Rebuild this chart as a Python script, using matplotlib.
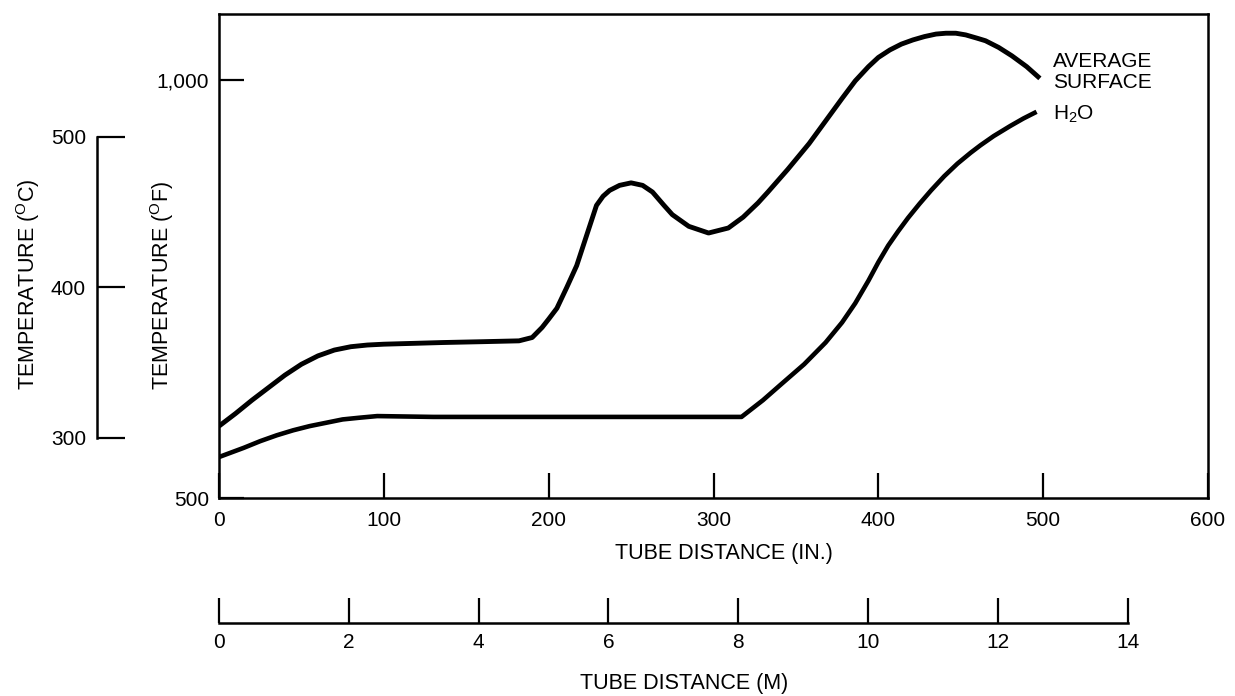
import numpy as np
import matplotlib
matplotlib.use("Agg")
import matplotlib.pyplot as plt

plt.rcParams['font.family'] = ['Liberation Sans', 'DejaVu Sans']
plt.rcParams['mathtext.fontset'] = 'custom'
plt.rcParams['mathtext.rm'] = 'Liberation Sans'
plt.rcParams['mathtext.default'] = 'regular'

# tube distance (in.) and temperature (deg F)
surf_x = [0, 10, 20, 30, 40, 50, 60, 70, 80, 90, 100, 136, 160, 182, 190,
          196, 200, 205, 211, 217, 223, 229, 233, 237, 243, 250, 257, 263,
          270, 275, 285, 297, 309, 318, 327, 333, 345, 358, 368, 378, 386,
          394, 400, 407, 414, 421, 428, 435, 441, 447, 453, 460, 465, 473,
          481, 490, 498]
surf_t = [586, 601, 617, 632, 647, 660, 670, 677, 681, 683, 684, 686, 687,
          688, 692, 704, 714, 727, 752, 778, 814, 850, 861, 868, 874, 877,
          874, 866, 850, 839, 825, 817, 823, 836, 853, 866, 893, 924, 951,
          978, 999, 1016, 1027, 1036, 1043, 1048, 1052, 1055, 1056, 1056,
          1054, 1050, 1047, 1039, 1029, 1016, 1002]

h2o_x = [0, 15, 25, 35, 45, 55, 65, 75, 85, 96, 130, 194, 250, 317, 330,
         341, 355, 368, 378, 386, 394, 400, 406, 412, 418, 425, 432, 440,
         448, 456, 462, 470, 480, 488, 496]
h2o_t = [549, 560, 568, 575, 581, 586, 590, 594, 596, 598, 597, 597, 597,
         597, 617, 636, 660, 686, 710, 733, 760, 782, 802, 819, 835, 852,
         868, 885, 900, 913, 922, 933, 945, 954, 962]

x_ticks = [0, 100, 200, 300, 400, 500, 600]
f_ticks = [500, 1000]
f_labels = ['500', '1,000']
c_ticks = [300, 400, 500]
m_ticks = [0, 2, 4, 6, 8, 10, 12, 14]

W, H = 1235, 696
fs = 15
fig = plt.figure(figsize=(W / 100, H / 100), dpi=100)

L, R, T, B = 219, 1208, 14, 498
pos = [L / W, 1 - B / H, (R - L) / W, (B - T) / H]
ylo, yhi = 500, 1079

ax = fig.add_axes(pos)
ax.plot(surf_x, surf_t, color='black', lw=3.5, solid_capstyle='butt',
        solid_joinstyle='round')
ax.plot(h2o_x, h2o_t, color='black', lw=3.3, solid_capstyle='butt',
        solid_joinstyle='round')
ax.set_xlim(0, 600)
ax.set_ylim(ylo, yhi)
ax.set_xticks(x_ticks)
ax.set_yticks(f_ticks)
ax.set_yticklabels(f_labels)
ax.tick_params(direction='in', length=18, width=1.6, labelsize=fs, color='black')
ax.tick_params(axis='x', pad=9)
ax.tick_params(axis='y', pad=7)
for s in ax.spines.values():
    s.set_linewidth(1.8)

ax.text(506, 1022, 'AVERAGE', fontsize=fs, va='center', ha='left')
ax.text(506, 997, 'SURFACE', fontsize=fs, va='center', ha='left')
ax.text(506, 959, 'H$_2$O', fontsize=fs, va='center', ha='left')

# celsius scale
axc = fig.add_axes([97 / W, pos[1], 0.0005, pos[3]])
axc.set_ylim((ylo - 32) * 5 / 9, (yhi - 32) * 5 / 9)
for k in ['top', 'right', 'bottom']:
    axc.spines[k].set_visible(False)
axc.spines['left'].set_bounds(300, 500)
axc.spines['left'].set_linewidth(1.8)
axc.set_yticks(c_ticks)
axc.set_xticks([])
axc.patch.set_visible(False)
axc.tick_params(axis='y', direction='in', length=20, width=1.6, pad=8, labelsize=fs)

# metre scale
axm = fig.add_axes([pos[0], 1 - 623 / H, pos[2], 0.0005])
axm.set_xlim(0, 600 * 0.0254)
for k in ['top', 'right', 'left']:
    axm.spines[k].set_visible(False)
axm.spines['bottom'].set_bounds(0, 14)
axm.spines['bottom'].set_linewidth(1.8)
axm.set_xticks(m_ticks)
axm.set_yticks([])
axm.patch.set_visible(False)
axm.tick_params(axis='x', direction='in', length=18, width=1.6, pad=7, labelsize=fs)

fig.text(724 / W, 1 - 553 / H, 'TUBE DISTANCE (IN.)', fontsize=fs + 0.5,
         ha='center', va='center')
fig.text(684 / W, 1 - 683 / H, 'TUBE DISTANCE (M)', fontsize=fs + 0.5,
         ha='center', va='center')
fig.text(28 / W, 1 - 284 / H, 'TEMPERATURE ($^{O}$C)', fontsize=fs + 0.5,
         rotation=90, ha='center', va='center')
fig.text(162 / W, 1 - 286 / H, 'TEMPERATURE ($^{O}$F)', fontsize=fs + 0.5,
         rotation=90, ha='center', va='center')

fig.savefig('out.png', dpi=100)
